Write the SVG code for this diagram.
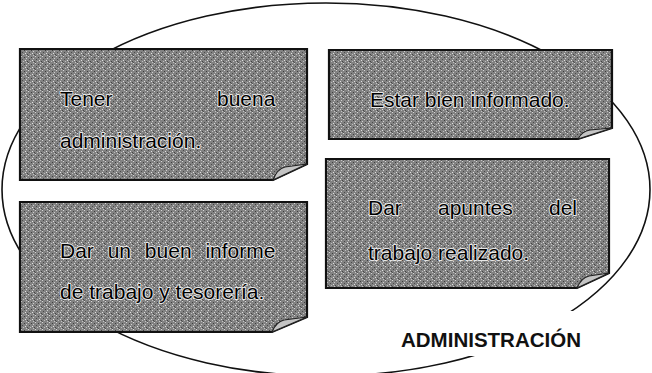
<svg xmlns="http://www.w3.org/2000/svg" width="652" height="373" viewBox="0 0 652 373">
<style>
.note{fill:url(#grain);stroke:#111;stroke-width:2.2;stroke-linejoin:miter}
.flap{fill:#c4c4c4;stroke:#222;stroke-width:1.2}
.t{font-family:"Liberation Sans",Arial,sans-serif;font-size:21px;fill:#000;stroke:#e8e8e8;stroke-width:1.8;paint-order:stroke;stroke-linejoin:round}
.label{font-family:"Liberation Sans",Arial,sans-serif;font-size:20.5px;font-weight:bold;fill:#111}
</style>
<defs>
<pattern id="grain" width="7" height="7" patternUnits="userSpaceOnUse">
<rect width="7" height="7" fill="#828282"/>
<rect x="0" y="0" width="1" height="1" fill="#d8d8d8"/>
<rect x="3" y="1" width="1" height="1" fill="#3e3e3e"/>
<rect x="5" y="2" width="1" height="1" fill="#cfcfcf"/>
<rect x="1" y="3" width="1" height="1" fill="#4a4a4a"/>
<rect x="4" y="4" width="1" height="1" fill="#e0e0e0"/>
<rect x="6" y="5" width="1" height="1" fill="#454545"/>
<rect x="2" y="5" width="1" height="1" fill="#bdbdbd"/>
<rect x="0" y="6" width="1" height="1" fill="#555"/>
<rect x="5" y="6" width="1" height="1" fill="#c4c4c4"/>
</pattern>
</defs>
<rect width="652" height="373" fill="#fff"/>
<g id="frame">
<ellipse cx="326" cy="189.5" rx="324" ry="186.5" fill="none" stroke="#111" stroke-width="1.6"/>
</g>
<g id="connectors"></g>
<g id="label-administracion">
<rect x="395" y="311" width="200" height="45" fill="#fff"/>
<text class="label" x="401" y="347">ADMINISTRACIÓN</text>
</g>
<g id="node-tener">
<path class="note" d="M20,49 H307 V164 L273,180 H20 Z"/>
<path class="flap" d="M273,180 Q277,169 285,167 L307,164 Z"/>
<text class="t" x="60" y="106">Tener</text>
<text class="t" x="217" y="106">buena</text>
<text class="t" x="60" y="148">administración.</text>
</g>
<g id="node-estar">
<path class="note" d="M329,50 H612 V128 L578,139 H329 Z"/>
<path class="flap" d="M578,139 Q582,131 590,130 L612,128 Z"/>
<text class="t" x="370" y="107">Estar bien informado.</text>
</g>
<g id="node-apuntes">
<path class="note" d="M326,159 H609 V273 L577,288 H326 Z"/>
<path class="flap" d="M577,288 Q581,278 589,276 L609,273 Z"/>
<text class="t" x="368" y="215">Dar</text>
<text class="t" x="438" y="215">apuntes</text>
<text class="t" x="549" y="215">del</text>
<text class="t" x="368" y="260">trabajo realizado.</text>
</g>
<g id="node-informe">
<path class="note" d="M20,202 H307 V317 L272,332 H20 Z"/>
<path class="flap" d="M272,332 Q276,322 284,320 L307,317 Z"/>
<text class="t" x="60" y="258" word-spacing="8">Dar un buen informe</text>
<text class="t" x="60" y="299">de trabajo y tesorería.</text>
</g>
</svg>
